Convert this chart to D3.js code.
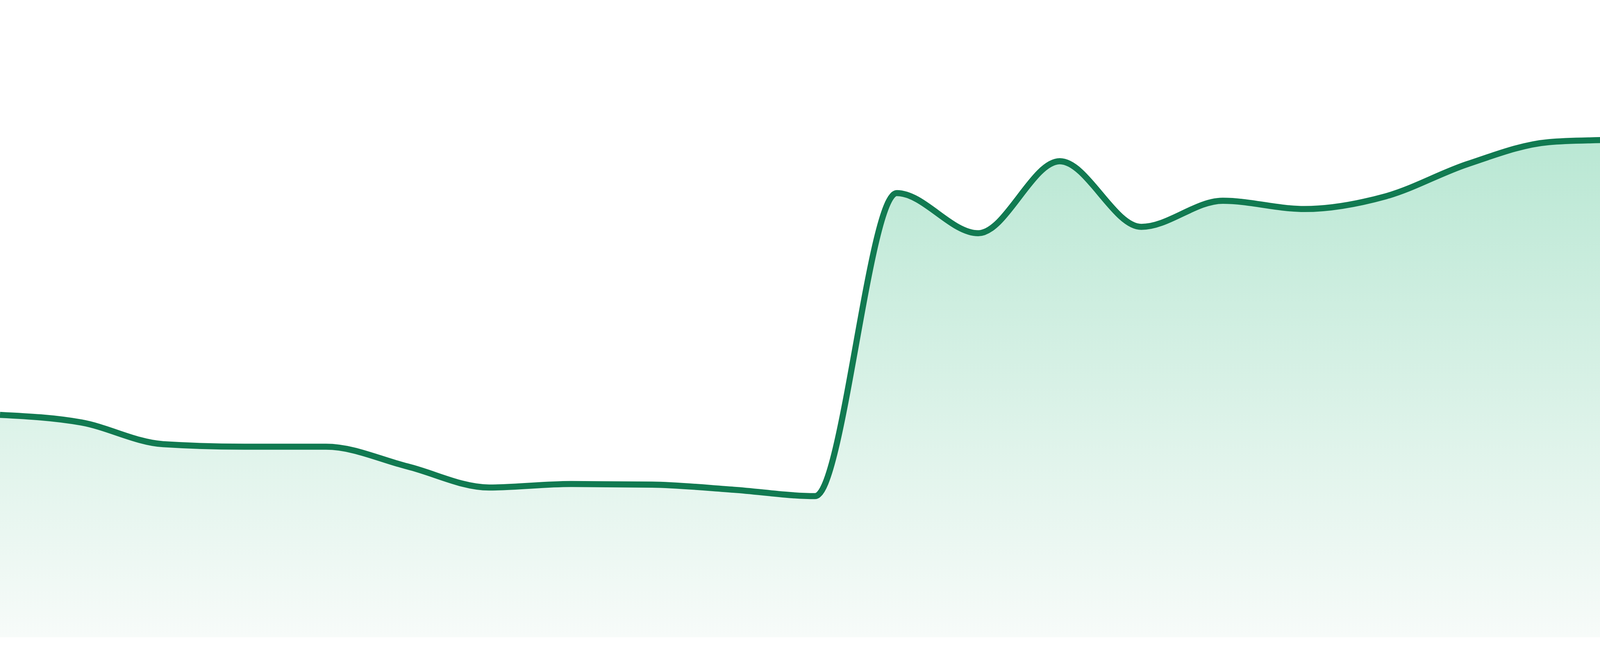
<!DOCTYPE html>
<html>
<head>
<meta charset="utf-8">
<script src="https://cdn.jsdelivr.net/npm/d3@7"></script>
<style>
  html, body { margin: 0; padding: 0; background: #fff; }
  svg { display: block; }
</style>
</head>
<body>
<svg id="chart"></svg>
<script>
// one point per day, no axes shown
var days = [1, 2, 3, 4, 5, 6, 7, 8, 9, 10, 11, 12, 13, 14, 15, 16, 17, 18, 19, 20, 21, 22, 23, 24];
var values = [34.9, 33.7, 30.3, 29.9, 29.9, 26.8, 23.5, 24.05, 23.95, 23.15, 22.15, 69.7,
              63.4, 74.7, 64.4, 68.5, 67.2, 69.2, 74.25, 77.7, 78.25, 79.9, 84.75, 87.6];
var yDomain = [0, 100];

function createArea(svgSelector){
  var width = 4800,
      height = 1680,
      plotBottom = 1632;

  var svg = d3.select(svgSelector)
      .attr("width", width)
      .attr("height", height);

  var x = d3.scaleLinear()
      .domain(d3.extent(days))
      .range([0, width]);

  var y = d3.scaleLinear()
      .domain(yDomain)
      .range([plotBottom, 0]);

  var data = days.map(function(d, i){ return {day: d, value: values[i]}; });

  var grad = svg.append("defs")
    .append("linearGradient")
      .attr("id", "fillGrad")
      .attr("gradientUnits", "userSpaceOnUse")
      .attr("x1", 0).attr("x2", 0)
      .attr("y1", y(d3.max(values)))
      .attr("y2", plotBottom);

  grad.append("stop").attr("offset", "0%").attr("stop-color", "#b2e5cf");
  grad.append("stop").attr("offset", "100%").attr("stop-color", "#f7fbf9");

  var area = d3.area()
      .curve(d3.curveMonotoneX)
      .x(function(d){ return x(d.day); })
      .y0(plotBottom)
      .y1(function(d){ return y(d.value); });

  var line = d3.line()
      .curve(d3.curveMonotoneX)
      .x(function(d){ return x(d.day); })
      .y(function(d){ return y(d.value); });

  svg.append("path")
      .datum(data)
      .attr("d", area)
      .attr("fill", "url(#fillGrad)");

  svg.append("path")
      .datum(data)
      .attr("d", line)
      .attr("fill", "none")
      .attr("stroke", "#117a51")
      .attr("stroke-width", 15.6)
      .attr("stroke-linejoin", "round");
}

createArea("#chart");
</script>
</body>
</html>
